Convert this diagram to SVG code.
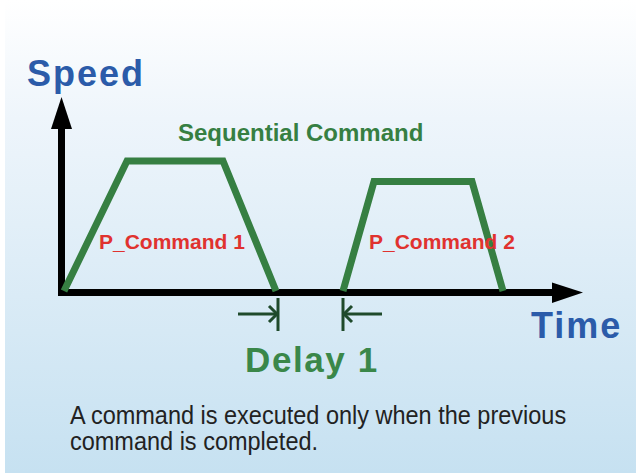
<svg xmlns="http://www.w3.org/2000/svg" width="636" height="473" viewBox="0 0 636 473">
<defs>
<linearGradient id="bg" x1="0" y1="0" x2="0" y2="1">
<stop offset="0" stop-color="#ffffff"/>
<stop offset="0.25" stop-color="#eef5fb"/>
<stop offset="1" stop-color="#c6e1f1"/>
</linearGradient>
<style>
.axis{stroke:#000;stroke-width:7;fill:none}
.prof{stroke:#367f42;stroke-width:7;fill:none;stroke-linejoin:miter}
.dim{stroke:#1f4a2b;stroke-width:3;fill:none}
.lbl{font-family:"Liberation Sans",Arial,sans-serif;font-weight:bold}
.blue{fill:#2b5ba9;font-size:36px;letter-spacing:2px}
.red{fill:#e0322f;font-size:21px}
.note{font-family:"Liberation Sans",Arial,sans-serif;font-size:25px;fill:#222}
</style>
</defs>
<rect x="0" y="0" width="636" height="473" fill="#ffffff"/>
<rect x="5" y="0" width="631" height="473" fill="url(#bg)"/>

<g id="axes">
<line class="axis" x1="61.5" y1="125" x2="61.5" y2="296"/>
<polygon points="61.5,97 51,129 72,129" fill="#000"/>
<line class="axis" x1="58" y1="292.5" x2="556" y2="292.5"/>
<polygon points="583,292.5 552,282.5 552,303" fill="#000"/>
</g>

<g id="speed-label"><text class="lbl blue" x="27" y="86">Speed</text></g>
<g id="time-label"><text class="lbl blue" x="531" y="338">Time</text></g>
<g id="title"><text class="lbl" x="178" y="141" font-size="24" fill="#367f42">Sequential Command</text></g>

<g id="p-command-1">
<polyline class="prof" points="64,291 127,161 223,161 276,291"/>
<text class="lbl red" x="99" y="249">P_Command 1</text>
</g>
<g id="p-command-2">
<polyline class="prof" points="343,291 374,181.5 472,181.5 503,291"/>
<text class="lbl red" x="369" y="249">P_Command 2</text>
</g>

<g id="connectors">
<line class="dim" x1="238" y1="314" x2="277" y2="314"/>
<line class="dim" x1="278" y1="298" x2="278" y2="331"/>
<polyline class="dim" points="269,306 277,314 269,322"/>
<line class="dim" x1="344" y1="314" x2="382" y2="314"/>
<line class="dim" x1="343" y1="298" x2="343" y2="331"/>
<polyline class="dim" points="352,306 344,314 352,322"/>
</g>

<g id="delay-label"><text class="lbl" x="245" y="372" font-size="35" letter-spacing="1.6" fill="#3a8749">Delay 1</text></g>

<g id="note" transform="translate(70,0) scale(0.94,1)">
<text class="note" x="0" y="424">A command is executed only when the previous</text>
<text class="note" x="0" y="450">command is completed.</text>
</g>
</svg>
